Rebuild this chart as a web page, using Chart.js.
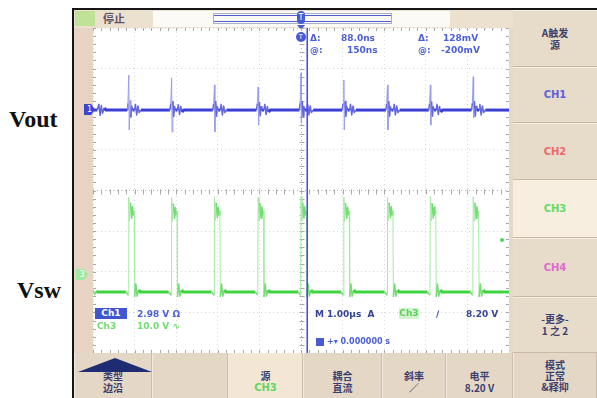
<!DOCTYPE html>
<html>
<head>
<meta charset="utf-8">
<script src="https://cdn.jsdelivr.net/npm/chart.js@4/dist/chart.umd.min.js"></script>
<style>
  html, body { margin: 0; padding: 0; background: #ffffff; width: 597px; height: 398px; overflow: hidden; }
  body { position: relative; font-family: "DejaVu Sans", sans-serif; }
  .abs { position: absolute; }
  .lbl { font-family: "Liberation Serif", serif; font-weight: bold; font-size: 24px; line-height: 24px; color: #111; }
  #frame { left: 72px; top: 8px; width: 525px; height: 390px; background: #e6d9c8; border-top: 2px solid #161616; border-left: 2px solid #161616; box-sizing: border-box; }
  #leftStrip { left: 74px; top: 28px; width: 19px; height: 325px; background: #e8d4c4; }
  #topBar { left: 74px; top: 10px; width: 439px; height: 18px; background: #ece0cf; }
  #plotBg { left: 93px; top: 28px; width: 416px; height: 325px; background: #ffffff; }
  #c { position: absolute; left: 93px; top: 28px; }
  .cj { font-family: "Noto Sans CJK SC", sans-serif; }
  .rd { font-size: 9px; line-height: 10px; white-space: pre; font-weight: bold; }
  .menuR { left: 513px; width: 84px; box-sizing: border-box; background: #e7dbca; border-top: 1px solid #f6eee3; border-bottom: 1px solid #c9b9a5; text-align: center; font-size: 10px; line-height: 12px; font-weight: bold; display: flex; flex-direction: column; justify-content: center; color: #3b3f70; }
  .menuB { top: 353px; height: 45px; box-sizing: border-box; background: #e4d7c6; border-left: 1px solid #f3eadf; border-right: 1px solid #cdbda9; text-align: center; font-size: 10px; line-height: 12px; font-weight: bold; display: flex; flex-direction: column; justify-content: flex-end; padding-bottom: 4px; color: #3b3f70; }
</style>
</head>
<body>
<div class="abs lbl" style="left:9px;top:107px;">Vout</div>
<div class="abs lbl" style="left:17px;top:278px;">Vsw</div>

<div id="frame" class="abs"></div>
<div id="topBar" class="abs"></div>
<div id="leftStrip" class="abs"></div>

<!-- acquisition state -->
<div class="abs" style="left:75px;top:11px;width:20px;height:15px;background:#bfe296;"></div>
<div class="abs cj" style="left:103px;top:11px;font-size:11px;line-height:15px;font-weight:bold;color:#5a5364;">停止</div>

<!-- record / trigger position bar -->
<div class="abs" style="left:153px;top:11px;width:297px;height:16px;background:#fbfaf6;"></div>
<div class="abs" style="left:213px;top:13px;width:179px;height:11px;border:1px solid #aab0c6;box-sizing:border-box;"></div>
<div class="abs" style="left:214px;top:15px;width:177px;height:1px;background:#4d5cd0;"></div>
<div class="abs" style="left:214px;top:21px;width:177px;height:1px;background:#4d5cd0;"></div>
<div class="abs" style="left:297px;top:11px;width:8px;height:13px;border-radius:4px;background:#4a5ad2;color:#fff;font-size:8px;line-height:13px;text-align:center;">T</div>
<div class="abs" style="left:297px;top:25px;width:0;height:0;border-left:4px solid transparent;border-right:4px solid transparent;border-top:5px solid #4a5ad2;"></div>

<div id="plotBg" class="abs"></div>
<canvas id="c" width="416" height="325"></canvas>

<!-- channel ground markers -->
<div class="abs" style="left:84px;top:104px;width:11px;height:11px;background:#3d45d4;color:#fff;font-size:8px;line-height:11px;text-align:center;clip-path:polygon(0 0,65% 0,100% 50%,65% 100%,0 100%);">1</div>
<div class="abs" style="left:76px;top:269px;width:12px;height:11px;background:#9fe89f;color:#fff;font-size:8px;line-height:11px;text-align:center;clip-path:polygon(0 0,65% 0,100% 50%,65% 100%,0 100%);">3</div>
<div class="abs" style="left:500px;top:238px;width:4px;height:4px;border-radius:2px;background:#4fd64f;"></div>

<!-- cursor readouts -->
<div class="abs" style="left:296px;top:32px;width:10px;height:10px;border-radius:5px;background:#4a5ad2;color:#fff;font-size:7px;line-height:10px;text-align:center;">T</div>
<div class="abs rd" style="left:310px;top:33px;color:#4c5fd6;">Δ:</div>
<div class="abs rd" style="left:341px;top:33px;color:#4c5fd6;">88.0ns</div>
<div class="abs rd" style="left:418px;top:33px;color:#4c5fd6;">Δ:</div>
<div class="abs rd" style="left:443px;top:33px;color:#4c5fd6;">128mV</div>
<div class="abs rd" style="left:310px;top:45px;color:#4c5fd6;">@:</div>
<div class="abs rd" style="left:347px;top:45px;color:#4c5fd6;">150ns</div>
<div class="abs rd" style="left:418px;top:45px;color:#4c5fd6;">@:</div>
<div class="abs rd" style="left:441px;top:45px;color:#4c5fd6;">-200mV</div>

<!-- channel / timebase readouts -->
<div class="abs rd" style="left:95px;top:308px;width:32px;height:11px;background:#3f55d2;color:#fff;text-align:center;line-height:11px;">Ch1</div>
<div class="abs rd" style="left:137px;top:309px;color:#4c5fd6;">2.98 V Ω</div>
<div class="abs rd" style="left:97px;top:321px;color:#72dc72;">Ch3</div>
<div class="abs rd" style="left:137px;top:321px;color:#72dc72;">10.0 V ∿</div>
<div class="abs rd" style="left:315px;top:309px;color:#34449a;">M 1.00µs  A</div>
<div class="abs rd" style="left:399px;top:308px;width:20px;height:11px;background:#d3f3cf;color:#5bd05b;text-align:center;line-height:11px;">Ch3</div>
<div class="abs rd" style="left:436px;top:309px;color:#34449a;">∕</div>
<div class="abs rd" style="left:466px;top:309px;color:#34449a;">8.20 V</div>
<div class="abs" style="left:316px;top:338px;width:8px;height:8px;background:#4a5ad2;"></div>
<div class="abs rd" style="left:327px;top:337px;color:#4c5fd6;font-size:8px;">+▾ 0.000000 s</div>

<!-- side menu -->
<div class="abs menuR cj" style="top:10px;height:57px;">A触发<br>源</div>
<div class="abs menuR" style="top:67px;height:56px;color:#5c62de;">CH1</div>
<div class="abs menuR" style="top:123px;height:57px;color:#ee6a6a;">CH2</div>
<div class="abs menuR" style="top:180px;height:58px;color:#63db63;background:#f8eee0;">CH3</div>
<div class="abs menuR" style="top:238px;height:59px;color:#e06ad0;">CH4</div>
<div class="abs menuR cj" style="top:297px;height:56px;">-更多-<br>1 之 2</div>

<!-- bottom menu -->
<div class="abs menuB cj" style="left:74px;width:78px;">
  <div style="position:absolute;left:3px;top:5px;width:74px;height:14px;background:#1e2d73;clip-path:polygon(0 100%,50% 0,100% 100%);"></div>
  类型<br>边沿
</div>
<div class="abs menuB" style="left:152px;width:76px;"></div>
<div class="abs menuB cj" style="left:228px;width:75px;background:#f3e6d4;">源<br><span style="color:#5fd65f;font-family:'DejaVu Sans',sans-serif;">CH3</span></div>
<div class="abs menuB cj" style="left:303px;width:79px;">耦合<br>直流</div>
<div class="abs menuB cj" style="left:382px;width:64px;">斜率<br>∕</div>
<div class="abs menuB cj" style="left:446px;width:67px;">电平<br>8.20 V</div>
<div class="abs menuB cj" style="left:513px;width:84px;justify-content:center;padding-bottom:0;line-height:11px;">模式<br>正常<br>&amp;释抑</div>

<script>
// Time axis in µs (trigger at 0), vertical axis in screen divisions.
const timeRange = [-5, 5];
const divRange = [-4, 4];
const cursorTime = 0.15;

// Output voltage trace (CH1): baseline with switching spikes and ringing.
const voutTrace = [
  [-5, 1.98], [-4.9, 1.98], [-4.86, 2.12], [-4.83, 1.85], [-4.80, 2.09], [-4.77, 1.90], [-4.73, 2.03], [-4.69, 1.98],
  [-4.18, 1.98], [-4.16, 2.15], [-4.14, 2.84], [-4.13, 1.49], [-4.11, 2.22], [-4.09, 1.80], [-4.07, 2.08], [-4.05, 1.98],
  [-4.00, 1.98], [-3.98, 2.12], [-3.95, 1.86], [-3.92, 2.08], [-3.89, 1.92], [-3.85, 1.98],
  [-3.15, 1.98], [-3.13, 2.14], [-3.11, 2.77], [-3.10, 1.44], [-3.08, 2.20], [-3.06, 1.82], [-3.04, 2.07], [-3.02, 1.98],
  [-2.97, 1.98], [-2.95, 2.11], [-2.92, 1.87], [-2.89, 2.07], [-2.86, 1.93], [-2.82, 1.98],
  [-2.12, 1.98], [-2.10, 2.13], [-2.08, 2.60], [-2.07, 1.44], [-2.05, 2.20], [-2.03, 1.83], [-2.01, 2.06], [-1.99, 1.98],
  [-1.94, 1.98], [-1.92, 2.12], [-1.89, 1.86], [-1.86, 2.08], [-1.83, 1.92], [-1.79, 1.98],
  [-1.07, 1.98], [-1.05, 2.14], [-1.03, 2.55], [-1.02, 1.61], [-1.00, 2.18], [-0.98, 1.84], [-0.96, 2.06], [-0.94, 1.98],
  [-0.89, 1.98], [-0.87, 2.12], [-0.84, 1.87], [-0.81, 2.07], [-0.78, 1.93], [-0.74, 1.98],
  [-0.04, 1.98], [-0.02, 2.15], [0.00, 2.89], [0.01, 1.66], [0.03, 2.20], [0.05, 1.82], [0.07, 2.07], [0.09, 1.98],
  [0.14, 1.98], [0.16, 2.12], [0.19, 1.86], [0.22, 2.08], [0.25, 1.92], [0.29, 1.98],
  [0.99, 1.98], [1.01, 2.14], [1.03, 2.72], [1.04, 1.49], [1.06, 2.20], [1.08, 1.82], [1.10, 2.07], [1.12, 1.98],
  [1.17, 1.98], [1.19, 2.12], [1.22, 1.86], [1.25, 2.08], [1.28, 1.92], [1.32, 1.98],
  [2.04, 1.98], [2.06, 2.13], [2.08, 2.60], [2.09, 1.49], [2.11, 2.20], [2.13, 1.83], [2.15, 2.06], [2.17, 1.98],
  [2.22, 1.98], [2.24, 2.12], [2.27, 1.86], [2.30, 2.08], [2.33, 1.92], [2.37, 1.98],
  [3.07, 1.98], [3.09, 2.14], [3.11, 2.60], [3.12, 1.61], [3.14, 2.19], [3.16, 1.83], [3.18, 2.06], [3.20, 1.98],
  [3.25, 1.98], [3.27, 2.12], [3.30, 1.87], [3.33, 2.07], [3.36, 1.93], [3.40, 1.98],
  [4.10, 1.98], [4.12, 2.15], [4.14, 2.80], [4.15, 1.79], [4.17, 2.20], [4.19, 1.83], [4.21, 2.07], [4.23, 1.98],
  [4.28, 1.98], [4.30, 2.12], [4.33, 1.86], [4.36, 2.08], [4.39, 1.92], [4.43, 1.98],
  [5, 1.98]
];

// Switch node trace (CH3): short high pulses with overshoot, long low phase.
const vswTrace = [
  [-5, -2.45], [-4.96, -2.56], [-4.92, -2.48], [-4.88, -2.5],
  [-4.21, -2.5], [-4.15, -2.58], [-4.14, -0.16], [-4.12, -0.75], [-4.10, -0.30], [-4.07, -0.68], [-4.05, -0.40], [-4.03, -0.60], [-4.01, -0.50], [-4.00, -2.62], [-3.97, -2.30], [-3.94, -2.60], [-3.90, -2.45], [-3.86, -2.5],
  [-3.18, -2.5], [-3.12, -2.58], [-3.11, -0.18], [-3.09, -0.76], [-3.07, -0.32], [-3.04, -0.68], [-3.02, -0.42], [-3.00, -0.60], [-2.98, -0.50], [-2.97, -2.62], [-2.94, -2.30], [-2.91, -2.60], [-2.87, -2.45], [-2.83, -2.5],
  [-2.15, -2.5], [-2.09, -2.58], [-2.08, -0.15], [-2.06, -0.74], [-2.04, -0.30], [-2.01, -0.67], [-1.99, -0.41], [-1.97, -0.60], [-1.95, -0.50], [-1.94, -2.62], [-1.91, -2.30], [-1.88, -2.60], [-1.84, -2.45], [-1.80, -2.5],
  [-1.10, -2.5], [-1.04, -2.58], [-1.03, -0.17], [-1.01, -0.75], [-0.99, -0.31], [-0.96, -0.68], [-0.94, -0.40], [-0.92, -0.60], [-0.90, -0.50], [-0.89, -2.62], [-0.86, -2.30], [-0.83, -2.60], [-0.79, -2.45], [-0.75, -2.5],
  [-0.07, -2.5], [-0.01, -2.58], [0.00, -0.14], [0.02, -0.75], [0.04, -0.30], [0.07, -0.68], [0.09, -0.40], [0.11, -0.60], [0.13, -0.50], [0.14, -2.62], [0.17, -2.30], [0.20, -2.60], [0.24, -2.45], [0.28, -2.5],
  [0.96, -2.5], [1.02, -2.58], [1.03, -0.16], [1.05, -0.76], [1.07, -0.31], [1.10, -0.68], [1.12, -0.41], [1.14, -0.60], [1.16, -0.50], [1.17, -2.62], [1.20, -2.30], [1.23, -2.60], [1.27, -2.45], [1.31, -2.5],
  [2.01, -2.5], [2.07, -2.58], [2.08, -0.17], [2.10, -0.74], [2.12, -0.30], [2.15, -0.67], [2.17, -0.40], [2.19, -0.60], [2.21, -0.50], [2.22, -2.62], [2.25, -2.30], [2.28, -2.60], [2.32, -2.45], [2.36, -2.5],
  [3.04, -2.5], [3.10, -2.58], [3.11, -0.15], [3.13, -0.75], [3.15, -0.31], [3.18, -0.68], [3.20, -0.41], [3.22, -0.60], [3.24, -0.50], [3.25, -2.62], [3.28, -2.30], [3.31, -2.60], [3.35, -2.45], [3.39, -2.5],
  [4.07, -2.5], [4.13, -2.58], [4.14, -0.16], [4.16, -0.75], [4.18, -0.30], [4.21, -0.68], [4.23, -0.40], [4.25, -0.60], [4.27, -0.50], [4.28, -2.62], [4.31, -2.30], [4.34, -2.60], [4.38, -2.45], [4.42, -2.5],
  [5, -2.5]
];

const toPoints = arr => arr.map(([x, y]) => ({ x, y }));

// Fast edges are drawn thin and pale, settled levels thick and saturated,
// the way a phosphor-style display renders them.
function styleBySlope(thick, mid, thin) {
  return {
    borderWidth: c => {
      const d = Math.abs(c.p1.parsed.y - c.p0.parsed.y);
      return d > 0.4 ? 1 : d > 0.06 ? 1.5 : 3;
    },
    borderColor: c => {
      const d = Math.abs(c.p1.parsed.y - c.p0.parsed.y);
      return d > 0.4 ? thin : d > 0.06 ? mid : thick;
    }
  };
}

// Minor tick marks along the centre cross and the graticule border.
const graticuleTicks = {
  id: 'graticuleTicks',
  beforeDatasetsDraw(chart) {
    const { ctx, scales: { x, y }, chartArea: a } = chart;
    const x0 = Math.round(x.getPixelForValue(0)) + 0.5;
    const y0 = Math.round(y.getPixelForValue(0)) + 0.5;
    ctx.save();
    ctx.strokeStyle = '#a9a9a9';
    ctx.lineWidth = 1;
    ctx.beginPath();
    for (let i = 0; i <= 50; i++) {
      const px = Math.round(x.getPixelForValue(timeRange[0] + i * 0.2)) + 0.5;
      ctx.moveTo(px, y0 - 2); ctx.lineTo(px, y0 + 3);
      ctx.moveTo(px, a.bottom - 3); ctx.lineTo(px, a.bottom);
      ctx.moveTo(px, a.top); ctx.lineTo(px, a.top + 3);
    }
    for (let i = 0; i <= 40; i++) {
      const py = Math.round(y.getPixelForValue(divRange[0] + i * 0.2)) + 0.5;
      ctx.moveTo(x0 - 2, py); ctx.lineTo(x0 + 3, py);
      ctx.moveTo(a.right - 3, py); ctx.lineTo(a.right, py);
      ctx.moveTo(a.left, py); ctx.lineTo(a.left + 3, py);
    }
    ctx.stroke();
    ctx.restore();
  }
};

const gridColor = c => (c.tick && c.tick.value === 0 ? '#b4b4b4' : '#d9d9d9');

new Chart(document.getElementById('c'), {
  type: 'line',
  data: {
    datasets: [
      {
        label: 'cursor',
        data: [{ x: cursorTime, y: divRange[1] }, { x: cursorTime, y: divRange[0] }],
        borderColor: '#4b4fdc',
        borderWidth: 1.6,
        pointRadius: 0,
        order: 0
      },
      {
        label: 'Vout',
        data: toPoints(voutTrace),
        pointRadius: 0,
        segment: styleBySlope('#3c3fd6', '#6266df', '#9a9cec'),
        borderColor: '#3c3fd6',
        order: 1
      },
      {
        label: 'Vsw',
        data: toPoints(vswTrace),
        pointRadius: 0,
        segment: styleBySlope('#3ed43e', '#72de72', '#a6eaa6'),
        borderColor: '#3ed43e',
        order: 2
      }
    ]
  },
  options: {
    responsive: false,
    animation: false,
    layout: { padding: 0 },
    plugins: { legend: { display: false }, tooltip: { enabled: false } },
    elements: { line: { tension: 0, borderCapStyle: 'butt', borderJoinStyle: 'round' } },
    scales: {
      x: {
        type: 'linear', min: timeRange[0], max: timeRange[1],
        ticks: { display: false, stepSize: 1 },
        grid: { drawTicks: false, color: gridColor, lineWidth: 1 },
        border: { display: false, dash: [1, 3] }
      },
      y: {
        type: 'linear', min: divRange[0], max: divRange[1],
        ticks: { display: false, stepSize: 1 },
        grid: { drawTicks: false, color: gridColor, lineWidth: 1 },
        border: { display: false, dash: [1, 3] }
      }
    }
  },
  plugins: [graticuleTicks]
});
</script>
</body>
</html>
